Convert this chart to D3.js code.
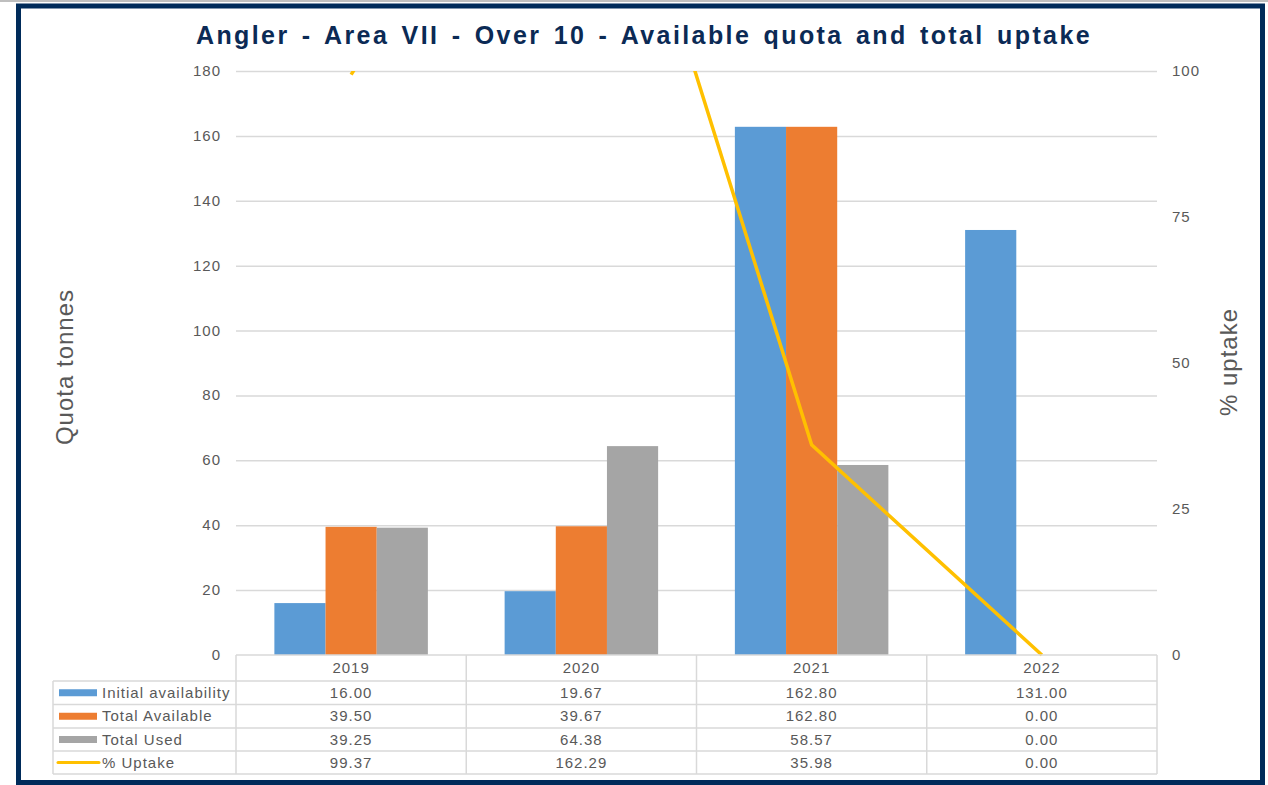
<!DOCTYPE html>
<html>
<head>
<meta charset="utf-8">
<script src="https://cdn.jsdelivr.net/npm/d3@7"></script>
<style>
  body { margin: 0; background: #fff; }
  svg { display: block; font-family: "Liberation Sans", Arial, sans-serif; }
</style>
</head>
<body>
<script>
// chart values
const years = ['2019', '2020', '2021', '2022']
const initialAvailability = [16.00, 19.67, 162.80, 131.00]
const totalAvailable = [39.50, 39.67, 162.80, 0.00]
const totalUsed = [39.25, 64.38, 58.57, 0.00]
const pctUptake = [99.37, 162.29, 35.98, 0.00]
const leftTicks = [0, 20, 40, 60, 80, 100, 120, 140, 160, 180]
const rightTicks = [0, 25, 50, 75, 100]

const barSeries = [
  {name: 'Initial availability', values: initialAvailability, color: '#5B9BD5'},
  {name: 'Total Available', values: totalAvailable, color: '#ED7D31'},
  {name: 'Total Used', values: totalUsed, color: '#A5A5A5'}
]
const lineColor = '#FFC000'
const textColor = '#595959'
const gridColor = '#D9D9D9'

const width = 1268, height = 785
const plot = {left: 236, right: 1157, top: 71, bottom: 655}

const svg = d3.select('body').append('svg').attr('width', width).attr('height', height)

// frame
svg.append('line').attr('x1', 0).attr('x2', width).attr('y1', 1).attr('y2', 1)
  .attr('stroke', '#BFBFBF').attr('stroke-width', 2)
svg.append('rect').attr('x', 18.5).attr('y', 6).attr('width', 1244).attr('height', 776.5)
  .attr('fill', '#fff').attr('stroke', '#002B5A').attr('stroke-width', 5)

svg.append('text')
  .attr('x', 644).attr('y', 44)
  .attr('text-anchor', 'middle')
  .attr('font-size', 25).attr('font-weight', 'bold').attr('fill', '#0B2A55')
  .attr('letter-spacing', 2.4).attr('word-spacing', 3)
  .text('Angler  - Area VII - Over 10 - Available quota and total uptake')

const x = d3.scaleBand().domain(years).range([plot.left, plot.right])
const xInner = d3.scaleBand().domain(barSeries.map(s => s.name))
  .range([0, x.bandwidth()]).paddingOuter(0.75).paddingInner(0)
const yLeft = d3.scaleLinear().domain([0, 180]).range([plot.bottom, plot.top])
const yRight = d3.scaleLinear().domain([0, 100]).range([plot.bottom, plot.top])

// gridlines
svg.append('g').selectAll('line').data(leftTicks.slice(1)).join('line')
  .attr('x1', plot.left).attr('x2', plot.right)
  .attr('y1', d => yLeft(d) + 0.5).attr('y2', d => yLeft(d) + 0.5)
  .attr('stroke', gridColor).attr('stroke-width', 1.5)

// axis tick labels
svg.append('g').selectAll('text').data(leftTicks).join('text')
  .attr('x', 221).attr('y', d => yLeft(d) + 5)
  .attr('text-anchor', 'end').attr('font-size', 15).attr('letter-spacing', 1).attr('fill', textColor)
  .text(d => d)

svg.append('g').selectAll('text').data(rightTicks).join('text')
  .attr('x', 1172).attr('y', d => yRight(d) + 5)
  .attr('font-size', 15).attr('letter-spacing', 1).attr('fill', textColor)
  .text(d => d)

// bars
barSeries.forEach(s => {
  svg.append('g').selectAll('rect').data(years).join('rect')
    .attr('x', (d, i) => x(d) + xInner(s.name))
    .attr('width', xInner.bandwidth())
    .attr('y', (d, i) => yLeft(s.values[i]))
    .attr('height', (d, i) => yLeft(0) - yLeft(s.values[i]))
    .attr('fill', s.color)
})

// % uptake line, clipped to plot area
svg.append('clipPath').attr('id', 'plotclip').append('rect')
  .attr('x', plot.left).attr('y', plot.top)
  .attr('width', plot.right - plot.left).attr('height', plot.bottom - plot.top + 2)
const line = d3.line().x((d, i) => x(years[i]) + x.bandwidth() / 2).y(d => yRight(d))
svg.append('path').datum(pctUptake)
  .attr('d', line).attr('fill', 'none')
  .attr('stroke', lineColor).attr('stroke-width', 3.5)
  .attr('clip-path', 'url(#plotclip)')

// axis titles
svg.append('text')
  .attr('transform', 'translate(73,367) rotate(-90)')
  .attr('text-anchor', 'middle').attr('font-size', 24).attr('letter-spacing', 1).attr('fill', textColor)
  .text('Quota tonnes')
svg.append('text')
  .attr('transform', 'translate(1237,362) rotate(-90)')
  .attr('text-anchor', 'middle').attr('font-size', 24).attr('letter-spacing', 1).attr('fill', textColor)
  .text('% uptake')

// data table
const tableLeft = 53
const rowY = [655, 681, 704.5, 728, 751, 774]
const table = svg.append('g').attr('stroke', gridColor).attr('stroke-width', 1.5)
table.append('line').attr('x1', plot.left).attr('x2', plot.right).attr('y1', rowY[0]).attr('y2', rowY[0])
rowY.slice(1).forEach(yy => {
  table.append('line').attr('x1', tableLeft).attr('x2', plot.right).attr('y1', yy).attr('y2', yy)
})
table.append('line').attr('x1', tableLeft).attr('x2', tableLeft).attr('y1', rowY[1]).attr('y2', rowY[5])
years.forEach(d => {
  table.append('line').attr('x1', x(d)).attr('x2', x(d)).attr('y1', rowY[0]).attr('y2', rowY[5])
})
table.append('line').attr('x1', plot.right).attr('x2', plot.right).attr('y1', rowY[0]).attr('y2', rowY[5])

const fmt = d3.format('.2f')
svg.append('g').selectAll('text').data(years).join('text')
  .attr('x', d => x(d) + x.bandwidth() / 2).attr('y', (rowY[0] + rowY[1]) / 2 + 5)
  .attr('text-anchor', 'middle').attr('font-size', 15).attr('letter-spacing', 1).attr('fill', textColor)
  .text(d => d)

const rows = barSeries.map(s => ({name: s.name, values: s.values, color: s.color, type: 'bar'}))
rows.push({name: '% Uptake', values: pctUptake, color: lineColor, type: 'line'})

rows.forEach((r, ri) => {
  const cy = (rowY[ri + 1] + rowY[ri + 2]) / 2
  if (r.type === 'bar') {
    svg.append('rect').attr('x', 59).attr('y', cy - 3.5).attr('width', 38).attr('height', 7).attr('fill', r.color)
  } else {
    svg.append('line').attr('x1', 58).attr('x2', 99).attr('y1', cy).attr('y2', cy)
      .attr('stroke', r.color).attr('stroke-width', 3).attr('stroke-linecap', 'round')
  }
  svg.append('text').attr('x', 102).attr('y', cy + 5)
    .attr('font-size', 15).attr('letter-spacing', 1).attr('fill', textColor).text(r.name)
  svg.append('g').selectAll('text').data(r.values).join('text')
    .attr('x', (d, i) => x(years[i]) + x.bandwidth() / 2).attr('y', cy + 5)
    .attr('text-anchor', 'middle').attr('font-size', 15).attr('letter-spacing', 1).attr('fill', textColor)
    .text(d => fmt(d))
})
</script>
</body>
</html>
